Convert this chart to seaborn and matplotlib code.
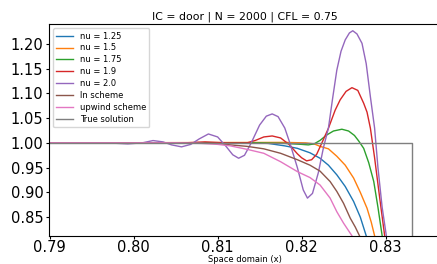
import numpy as np
import pandas as pd
import matplotlib
matplotlib.use("Agg")
import matplotlib.pyplot as plt
import seaborn as sns

# ==========================================
# DATA
# ==========================================
labels = ["nu = 1.25", "nu = 1.5", "nu = 1.75", "nu = 1.9", "nu = 2.0",
          "ln scheme", "upwind scheme", "True solution"]

x_nu125 = [0.7895, 0.8140, 0.8160, 0.8180, 0.8195, 0.8210, 0.8222, 0.8232,
           0.8242, 0.8252, 0.8262, 0.8270, 0.8277, 0.8283]
y_nu125 = [1.000, 1.000, 0.999, 0.994, 0.989, 0.980, 0.969, 0.955,
           0.9355, 0.912, 0.8817, 0.850, 0.8125, 0.780]

x_nu15 = [0.7895, 0.8180, 0.8205, 0.8215, 0.8222, 0.8232, 0.8242, 0.8252,
          0.8262, 0.8270, 0.8278, 0.8283, 0.8287, 0.8292]
y_nu15 = [1.000, 1.001, 1.000, 0.998, 0.993, 0.988, 0.973, 0.955,
          0.929, 0.900, 0.868, 0.840, 0.8125, 0.770]

x_nu175 = [0.7895, 0.8150, 0.8180, 0.8200, 0.8208, 0.8215, 0.8222, 0.8230,
           0.8238, 0.8248, 0.8256, 0.8263, 0.8268, 0.8274, 0.8280, 0.8286,
           0.8291, 0.8296, 0.8301]
y_nu175 = [1.000, 1.000, 0.999, 0.997, 0.996, 0.998, 1.005, 1.016,
           1.024, 1.0276, 1.024, 1.015, 1.004, 0.989, 0.960, 0.922,
           0.870, 0.8125, 0.750]

x_nu19 = [0.7895, 0.8060, 0.8085, 0.8110, 0.8135, 0.8145, 0.8155, 0.8165,
          0.8175, 0.8185, 0.8195, 0.8200, 0.8206, 0.8212, 0.8218, 0.8225,
          0.8232, 0.8240, 0.8246, 0.8253, 0.8260, 0.8267, 0.8274, 0.8278,
          0.8282, 0.8287, 0.8293, 0.8299, 0.8305]
y_nu19 = [1.000, 1.000, 1.002, 1.000, 1.000, 1.005, 1.012, 1.014,
          1.010, 0.997, 0.978, 0.970, 0.9637, 0.966, 0.977, 1.003,
          1.0296, 1.066, 1.087, 1.104, 1.1115, 1.106, 1.080, 1.062,
          1.0296, 0.970, 0.890, 0.8125, 0.730]

x_nu20 = [0.7895, 0.7960, 0.7975, 0.7993, 0.8010, 0.8023, 0.8035, 0.8045,
          0.8057, 0.8068, 0.8078, 0.8089, 0.8100, 0.8110, 0.8118, 0.8125,
          0.8132, 0.8140, 0.8150, 0.8158, 0.8165, 0.8172, 0.8180, 0.8186,
          0.8195, 0.8202, 0.8207, 0.8213, 0.8220, 0.8226, 0.8232, 0.8237,
          0.8242, 0.8247, 0.8252, 0.8257, 0.8261, 0.8266, 0.8272, 0.8277,
          0.8282, 0.8287, 0.8291, 0.8296, 0.8301, 0.8306]
y_nu20 = [1.000, 1.000, 0.9995, 0.998, 1.000, 1.0047, 1.002, 0.996,
          0.992, 0.997, 1.008, 1.018, 1.012, 0.993, 0.976, 0.969,
          0.975, 1.000, 1.036, 1.054, 1.0585, 1.053, 1.030, 1.000,
          0.950, 0.905, 0.8885, 0.898, 0.940, 0.990, 1.030, 1.090,
          1.147, 1.185, 1.208, 1.222, 1.2264, 1.220, 1.201, 1.160,
          1.093, 1.030, 0.950, 0.870, 0.8125, 0.720]

x_ln = [0.7895, 0.8080, 0.8100, 0.8115, 0.8135, 0.8155, 0.8175, 0.8195,
        0.8210, 0.8222, 0.8234, 0.8242, 0.8250, 0.8258, 0.8264, 0.8269,
        0.8275]
y_ln = [1.000, 1.000, 0.999, 0.996, 0.993, 0.988, 0.979, 0.966,
        0.955, 0.943, 0.922, 0.902, 0.878, 0.848, 0.830, 0.8125,
        0.780]

x_upwind = [0.7895, 0.8050, 0.8080, 0.8100, 0.8115, 0.8135, 0.8155, 0.8175,
            0.8195, 0.8210, 0.8222, 0.8234, 0.8242, 0.8250, 0.8260, 0.8266]
y_upwind = [1.000, 1.000, 0.999, 0.997, 0.994, 0.987, 0.979, 0.962,
            0.942, 0.930, 0.915, 0.8885, 0.861, 0.838, 0.8125, 0.780]

x_true = [0.7895, 0.8331, 0.8331, 0.8370]
y_true = [1.0, 1.0, 0.0, 0.0]

series_x = [x_nu125, x_nu15, x_nu175, x_nu19, x_nu20, x_ln, x_upwind, x_true]
series_y = [y_nu125, y_nu15, y_nu175, y_nu19, y_nu20, y_ln, y_upwind, y_true]

x_ticks = [0.79, 0.80, 0.81, 0.82, 0.83]
y_ticks = [0.85, 0.90, 0.95, 1.00, 1.05, 1.10, 1.15, 1.20]

# long-form table for seaborn
frames = []
for name, xs, ys in zip(labels, series_x, series_y):
    frames.append(pd.DataFrame({"x": xs, "u": ys, "method": name}))
df = pd.concat(frames, ignore_index=True)

palette = dict(zip(labels, sns.color_palette("tab10", len(labels))))

# ==========================================
# PLOT
# ==========================================
fig = plt.figure(figsize=(4.37, 2.64), dpi=100)
ax = fig.add_axes([0.112, 0.107, 0.895, 0.802])

sns.lineplot(
    data=df, x="x", y="u", hue="method", hue_order=labels,
    palette=palette, estimator=None, sort=False, units="method",
    linewidth=1.0, ax=ax,
)

ax.set_xlim(0.7899, 0.8365)
ax.set_ylim(0.8125, 1.240)
ax.set_xticks(x_ticks)
ax.set_yticks(y_ticks)
ax.set_xticklabels([f"{t:.2f}" for t in x_ticks])
ax.set_yticklabels([f"{t:.2f}" for t in y_ticks])
ax.tick_params(axis="both", labelsize=10.5, length=2.5, pad=1.5)
ax.tick_params(axis="x", pad=0.8)

ax.set_title("IC = door | N = 2000 | CFL = 0.75", fontsize=7.8, pad=3)
ax.set_xlabel("Space domain (x)", fontsize=6)
ax.xaxis.set_label_coords(0.5, -0.093)
ax.set_ylabel("")

leg = ax.legend(loc="upper left", fontsize=6, frameon=True,
                handlelength=2.0, labelspacing=0.35, borderpad=0.4)
for line in leg.get_lines():
    line.set_linewidth(1.0)

fig.savefig("out.png", dpi=100)
plt.close(fig)
print("saved out.png")
